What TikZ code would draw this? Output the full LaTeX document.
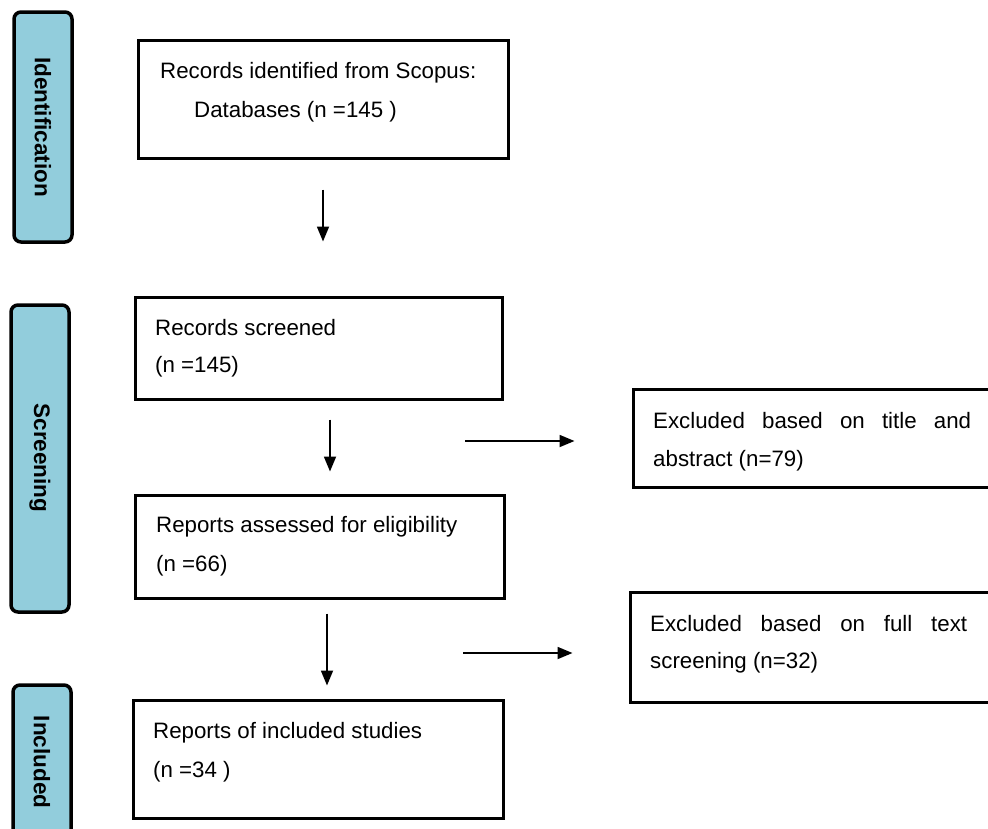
\documentclass[tikz,border=0pt]{standalone}
\usepackage{fontspec}
\setmainfont{Liberation Sans}
\usetikzlibrary{arrows.meta,calc}
\definecolor{stageblue}{HTML}{92CDDC}
\tikzset{
  stage/.style={draw=black, line width=3.5pt, fill=stageblue, rounded corners=7pt, minimum width=58pt, inner sep=0pt},
  stagetext/.style={rotate=-90, font=\fontsize{22.5}{26}\selectfont\bfseries, inner sep=0pt},
  mainbox/.style={draw=black, line width=3pt, inner sep=0pt},
  boxtext/.style={anchor=west, font=\fontsize{22.3}{26}\selectfont, inner sep=0pt, text=black},
  flow/.style={line width=1.8pt, -{Triangle[length=15pt,width=12pt]}},
}
\begin{document}
\begin{tikzpicture}[x=1pt,y=-1pt]
\useasboundingbox (0,0) rectangle (988,828);
\clip (0,0) rectangle (988,828);
% stage labels
\node[stage, minimum height=230pt] (sid) at (43,127) {};
\node[stagetext] (tid) at (43,127) {Identification};
\node[stage, minimum height=307pt] (ssc) at (40,458.5) {};
\node[stagetext] (tsc) at (40,458) {Screening};
\node[stage, minimum height=160pt] (sin) at (42,765) {};
\node[stagetext] (tin) at (42,762) {Included};
% main boxes
\node[mainbox, minimum width=370pt, minimum height=118pt] (b1) at (323,99) {};
\node[boxtext] (t1a) at (160,73) {Records identified from Scopus:};
\node[boxtext] (t1b) at (194,112) {Databases (n =145 )};
\node[mainbox, minimum width=367pt, minimum height=102pt] (b2) at (318.5,348) {};
\node[boxtext] (t2a) at (155,328) {Records screened};
\node[boxtext] (t2b) at (155,367) {(n =145)};
\node[mainbox, minimum width=369pt, minimum height=103pt] (b4) at (319.5,546.5) {};
\node[boxtext] (t4a) at (156,527) {Reports assessed for eligibility};
\node[boxtext] (t4b) at (156,566) {(n =66)};
\node[mainbox, minimum width=370pt, minimum height=118pt] (b6) at (318,759) {};
\node[boxtext] (t6a) at (153,733) {Reports of included studies};
\node[boxtext] (t6b) at (153,772) {(n =34 )};
% excluded boxes
\node[mainbox, minimum width=370pt, minimum height=98pt] (b3) at (818,438) {};
\node[boxtext] (t3a) at (653,421) {\hbox to 318pt{Excluded\hfill based\hfill on\hfill title\hfill and}};
\node[boxtext] (t3b) at (653,461) {abstract (n=79)};
\node[mainbox, minimum width=370pt, minimum height=110pt] (b5) at (815,647) {};
\node[boxtext] (t5a) at (650,624) {\hbox to 317pt{Excluded\hfill based\hfill on\hfill full\hfill text}};
\node[boxtext] (t5b) at (650,663) {screening (n=32)};
% connectors
\draw[flow, shorten <=30pt, shorten >=54pt] (b1.south) -- (b1.south |- b2.north);
\coordinate (v2) at ([xshift=11.5pt]b2.south);
\draw[flow, shorten <=19pt, shorten >=22pt] (v2) -- (v2 |- b4.north);
\coordinate (v4) at ([xshift=7.5pt]b4.south);
\draw[flow, shorten <=14pt, shorten >=13pt] (v4) -- (v4 |- b6.north);
\coordinate (h1) at (465,441);
\coordinate (h2) at (463,653);
\draw[flow, shorten >=57pt] (h1) -- (h1 -| b3.west);
\draw[flow, shorten >=56pt] (h2) -- (h2 -| b5.west);
\end{tikzpicture}
\end{document}
